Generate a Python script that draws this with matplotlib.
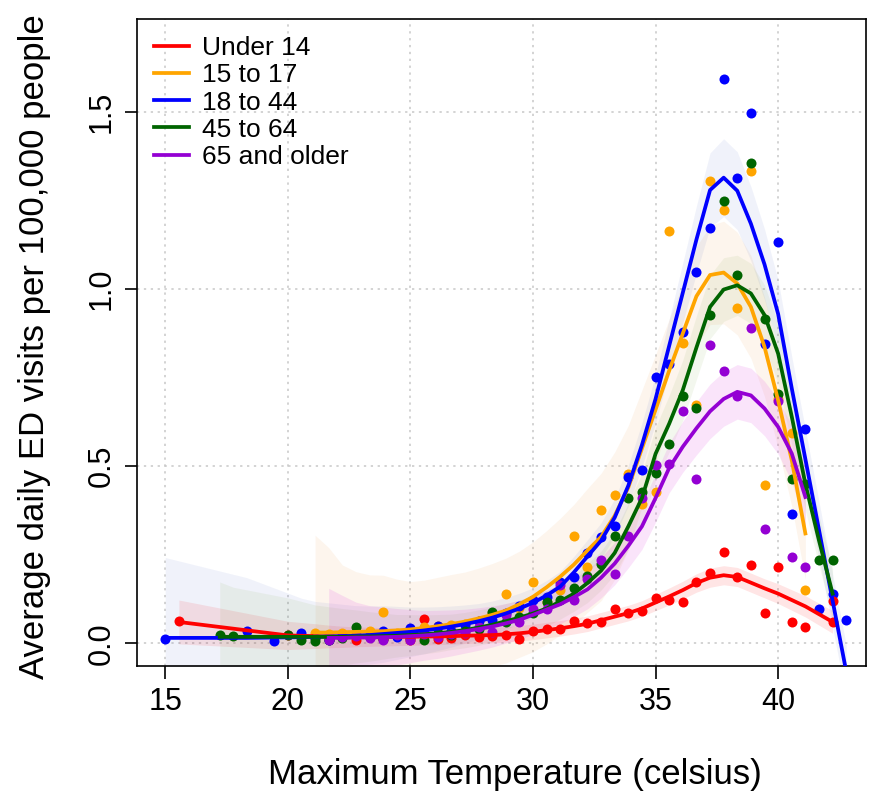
import numpy as np
import matplotlib
matplotlib.use("Agg")
import matplotlib.pyplot as plt

plt.rcParams['font.family'] = ['Liberation Sans', 'DejaVu Sans']

# temperatures are recorded in whole degrees Fahrenheit, plotted in Celsius
def f2c(f):
    return (np.asarray(f, dtype=float) - 32) * 5 / 9

# ---- Under 14 ----
red_f = [60, 68, 70, 71, 72, 73, 74, 75, 76, 77, 78, 79, 80, 81, 82, 83, 84, 85, 86, 87,
         88, 89, 90, 91, 92, 93, 94, 95, 96, 97, 98, 99, 100, 101, 102, 103, 104, 105, 106, 108]
red_y = [0.062, 0.022, 0.015, 0.012, 0.020, 0.008, 0.018, 0.012, 0.020, 0.010, 0.068, 0.012,
         0.015, 0.022, 0.018, 0.020, 0.023, 0.013, 0.035, 0.040, 0.041, 0.063, 0.057, 0.060,
         0.098, 0.085, 0.092, 0.128, 0.121, 0.117, 0.174, 0.199, 0.258, 0.188, 0.220, 0.086,
         0.214, 0.060, 0.046, 0.060]
red_fit = [0.060, 0.022, 0.020, 0.019, 0.018, 0.018, 0.018, 0.018, 0.018, 0.018, 0.019, 0.019,
           0.020, 0.021, 0.022, 0.023, 0.025, 0.028, 0.032, 0.037, 0.042, 0.048, 0.055, 0.065,
           0.075, 0.085, 0.098, 0.115, 0.132, 0.150, 0.170, 0.185, 0.192, 0.187, 0.171, 0.155,
           0.140, 0.122, 0.104, 0.060]
red_ci = [0.062, 0.040, 0.035, 0.032, 0.030, 0.028, 0.027, 0.026, 0.025, 0.024, 0.024, 0.023,
          0.023, 0.022, 0.022, 0.022, 0.022, 0.022, 0.022, 0.022, 0.022, 0.022, 0.022, 0.022,
          0.022, 0.022, 0.022, 0.023, 0.024, 0.025, 0.026, 0.027, 0.027, 0.027, 0.027, 0.027,
          0.028, 0.029, 0.030, 0.032]
red_extra_f = [108]
red_extra_y = [0.120]

# ---- 15 to 17 ----
org_f = list(range(70, 107))
org_y = [0.030, 0.025, 0.030, 0.028, 0.035, 0.089, 0.030, 0.025, 0.045, 0.048, 0.050, 0.055,
         0.062, 0.085, 0.138, 0.100, 0.173, 0.115, 0.150, 0.302, 0.216, 0.376, 0.420, 0.479,
         0.392, 0.426, 1.165, 0.847, 0.672, 1.305, 1.223, 0.948, 1.334, 0.446, 0.690, 0.594,
         0.150]
org_fit = [0.030, 0.030, 0.031, 0.032, 0.033, 0.034, 0.036, 0.039, 0.043, 0.048, 0.054, 0.061,
           0.070, 0.080, 0.092, 0.110, 0.131, 0.158, 0.188, 0.222, 0.262, 0.300, 0.360, 0.440,
           0.550, 0.660, 0.770, 0.875, 0.980, 1.040, 1.047, 1.016, 0.950, 0.837, 0.686, 0.517,
           0.310]
org_ci = [0.275, 0.240, 0.190, 0.170, 0.160, 0.158, 0.145, 0.135, 0.135, 0.138, 0.140, 0.140,
          0.142, 0.145, 0.148, 0.150, 0.155, 0.160, 0.165, 0.170, 0.175, 0.180, 0.180, 0.175,
          0.165, 0.155, 0.145, 0.140, 0.140, 0.140, 0.145, 0.145, 0.145, 0.140, 0.135, 0.130,
          0.130]

# ---- 18 to 44 ----
blu_f = [59, 65, 67] + list(range(69, 110))
blu_y = [0.013, 0.034, 0.006, 0.029, 0.015, 0.010, 0.020, 0.022, 0.022, 0.034, 0.018, 0.043,
         0.028, 0.048, 0.035, 0.050, 0.062, 0.066, 0.086, 0.105, 0.121, 0.130, 0.173, 0.186,
         0.254, 0.301, 0.332, 0.470, 0.489, 0.753, 0.790, 0.879, 1.049, 1.174, 1.593, 1.313,
         1.498, 0.846, 1.133, 0.366, 0.605, 0.098, 0.140, 0.065]
blu_fit = [0.015, 0.015, 0.016, 0.017, 0.018, 0.019, 0.020, 0.021, 0.023, 0.026, 0.029, 0.032,
           0.036, 0.041, 0.047, 0.054, 0.062, 0.072, 0.084, 0.098, 0.114, 0.135, 0.160, 0.200,
           0.245, 0.290, 0.355, 0.445, 0.560, 0.690, 0.840, 0.990, 1.140, 1.280, 1.315, 1.278,
           1.185, 1.070, 0.930, 0.720, 0.520, 0.320, 0.120, -0.080]
blu_ci = [0.227, 0.170, 0.140, 0.110, 0.100, 0.095, 0.090, 0.085, 0.082, 0.080, 0.075, 0.070,
          0.066, 0.062, 0.058, 0.054, 0.050, 0.047, 0.045, 0.043, 0.042, 0.042, 0.043, 0.045,
          0.047, 0.050, 0.053, 0.057, 0.062, 0.068, 0.075, 0.085, 0.095, 0.105, 0.110, 0.110,
          0.105, 0.100, 0.095, 0.090, 0.085, 0.080, 0.075, 0.075]

# ---- 45 to 64 ----
grn_f = [63, 64] + list(range(68, 109))
grn_y = [0.023, 0.020, 0.023, 0.008, 0.007, 0.010, 0.015, 0.046, 0.018, 0.012, 0.027, 0.015,
         0.008, 0.030, 0.023, 0.035, 0.040, 0.088, 0.060, 0.075, 0.085, 0.117, 0.123, 0.155,
         0.190, 0.223, 0.302, 0.410, 0.427, 0.480, 0.563, 0.698, 0.665, 0.927, 1.249, 1.041,
         1.357, 0.917, 0.704, 0.463, 0.451, 0.234, 0.234]
grn_fit = [0.018, 0.018, 0.018, 0.018, 0.018, 0.018, 0.018, 0.019, 0.019, 0.020, 0.021, 0.023,
           0.025, 0.028, 0.032, 0.037, 0.044, 0.052, 0.062, 0.072, 0.084, 0.098, 0.118, 0.140,
           0.170, 0.205, 0.255, 0.330, 0.410, 0.535, 0.620, 0.715, 0.835, 0.950, 0.999, 1.011,
           0.988, 0.927, 0.818, 0.640, 0.450, 0.290, 0.140]
grn_ci = [0.155, 0.140, 0.110, 0.100, 0.090, 0.085, 0.080, 0.075, 0.070, 0.065, 0.060, 0.058,
          0.055, 0.053, 0.050, 0.050, 0.050, 0.050, 0.050, 0.050, 0.050, 0.050, 0.050, 0.050,
          0.055, 0.055, 0.060, 0.065, 0.070, 0.075, 0.080, 0.085, 0.090, 0.090, 0.090, 0.085,
          0.085, 0.085, 0.085, 0.080, 0.075, 0.070, 0.070]

# ---- 65 and older ----
pur_f = list(range(71, 107))
pur_y = [0.010, 0.018, 0.020, 0.015, 0.008, 0.022, 0.010, 0.025, 0.018, 0.025, 0.030, 0.045,
         0.032, 0.080, 0.060, 0.098, 0.098, 0.163, 0.121, 0.180, 0.236, 0.195, 0.302, 0.410,
         0.502, 0.505, 0.655, 0.463, 0.843, 0.768, 0.699, 0.891, 0.322, 0.684, 0.244, 0.216]
pur_fit = [0.015, 0.015, 0.016, 0.016, 0.017, 0.018, 0.020, 0.022, 0.025, 0.029, 0.034, 0.040,
           0.047, 0.056, 0.066, 0.080, 0.095, 0.110, 0.130, 0.152, 0.185, 0.225, 0.275, 0.330,
           0.410, 0.495, 0.555, 0.607, 0.655, 0.690, 0.710, 0.700, 0.663, 0.611, 0.536, 0.413]
pur_ci = [0.140, 0.120, 0.100, 0.090, 0.085, 0.080, 0.075, 0.070, 0.068, 0.065, 0.062, 0.060,
          0.058, 0.056, 0.055, 0.055, 0.055, 0.055, 0.055, 0.055, 0.057, 0.060, 0.062, 0.065,
          0.068, 0.070, 0.072, 0.075, 0.077, 0.077, 0.077, 0.077, 0.077, 0.077, 0.080, 0.085]

labels = ["Under 14", "15 to 17", "18 to 44", "45 to 64", "65 and older"]
colors = ["#FF0000", "#FFA500", "#0000FF", "#006400", "#9400D3"]
band_colors = ["#FF0000", "#F0A050", "#3050C0", "#6A9A2A", "#E040E0"]
band_alpha = [0.10, 0.10, 0.07, 0.08, 0.14]

groups = [(red_f, red_y, red_fit, red_ci),
          (org_f, org_y, org_fit, org_ci),
          (blu_f, blu_y, blu_fit, blu_ci),
          (grn_f, grn_y, grn_fit, grn_ci),
          (pur_f, pur_y, pur_fit, pur_ci)]

fig = plt.figure(figsize=(8.69, 7.95), dpi=100)
ax = fig.add_axes([0.158, 0.162, 0.839, 0.814])

for (f, y, fit, ci), bc, ba in zip(groups, band_colors, band_alpha):
    x = f2c(f)
    fit = np.array(fit)
    ci = np.array(ci)
    ax.fill_between(x, fit - ci, fit + ci, color=bc, alpha=ba, lw=0, zorder=1)

for (f, y, fit, ci), c, lab in zip(groups, colors, labels):
    x = f2c(f)
    ax.scatter(x, y, s=52, color=c, lw=0, zorder=3)
    ax.plot(x, fit, color=c, lw=2.7, label=lab, zorder=4)
ax.scatter(f2c(red_extra_f), red_extra_y, s=52, color=colors[0], lw=0, zorder=3)

ax.set_xlim(13.86, 43.6)
ax.set_ylim(-0.065, 1.763)
ax.set_xticks([15, 20, 25, 30, 35, 40])
ax.set_yticks([0.0, 0.5, 1.0, 1.5])
ax.set_yticklabels(["0.0", "0.5", "1.0", "1.5"], rotation=90, va="center")
ax.tick_params(labelsize=22, length=9, width=1.2, pad=6)
ax.grid(True, color="#C8C8C8", linestyle=(0, (1.5, 3)), lw=1.1)
ax.set_axisbelow(True)
for sp in ax.spines.values():
    sp.set_linewidth(1.2)

ax.set_xlabel("Maximum Temperature (celsius)", fontsize=25)
ax.set_ylabel("Average daily ED visits per 100,000 people", fontsize=25)
ax.xaxis.set_label_coords(0.518, -0.142)
ax.yaxis.set_label_coords(-0.118, 0.494)

ax.legend(loc="upper left", frameon=False, fontsize=19, handlelength=1.3,
          handletextpad=0.5, labelspacing=0.12, borderaxespad=0.25)

fig.savefig("out.png", dpi=100)
